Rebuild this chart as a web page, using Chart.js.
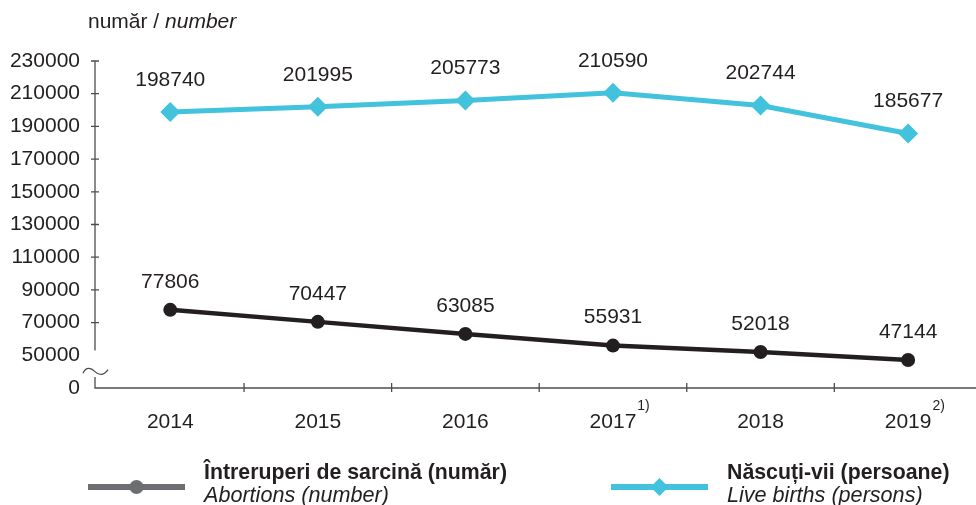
<!DOCTYPE html>
<html>
<head>
<meta charset="utf-8">
<script src="https://cdn.jsdelivr.net/npm/chart.js@4"></script>
<style>
html,body{margin:0;padding:0;background:#fff;overflow:hidden;}
#wrap{width:976px;height:505px;position:relative;}
canvas{display:block;}
</style>
</head>
<body>
<div id="wrap"><canvas id="c" width="976" height="505"></canvas></div>
<script>
const years = ['2014', '2015', '2016', '2017', '2018', '2019'];
const yearNotes = ['', '', '', '1)', '', '2)'];
const abortions = [77806, 70447, 63085, 55931, 52018, 47144];
const liveBirths = [198740, 201995, 205773, 210590, 202744, 185677];
const yTickValues = [30000, 50000, 70000, 90000, 110000, 130000, 150000, 170000, 190000, 210000, 230000];
const yTickLabels = ['0', '50000', '70000', '90000', '110000', '130000', '150000', '170000', '190000', '210000', '230000'];
const seriesNames = ['Întreruperi de sarcină (număr)', 'Născuți-vii (persoane)'];
const seriesNamesEn = ['Abortions (number)', 'Live births (persons)'];
const titleRo = 'număr / ';
const titleEn = 'number';

const TXT = '#231f20';
const FONT = '"Liberation Sans", Arial, Helvetica, sans-serif';
const BLACK = '#231f20';
const CYAN = '#42c2dc';
const GRAY = '#6d6e71';
const AXIS = '#4d4d4f';
const FS = '21px ';
const LABEL_OFFSETS = [28, 32];

const custom = {
  id: 'custom',
  afterDraw(chart) {
    const {ctx, chartArea: ca, scales: {x, y}} = chart;
    ctx.save();
    // axes
    ctx.strokeStyle = AXIS;
    ctx.lineWidth = 1.3;
    const ax = ca.left;
    ctx.beginPath();
    ctx.moveTo(ax, y.getPixelForValue(230000));
    ctx.lineTo(ax, y.getPixelForValue(53000));
    ctx.moveTo(ax, y.getPixelForValue(36700));
    ctx.lineTo(ax, ca.bottom);
    ctx.lineTo(ca.right, ca.bottom);
    ctx.stroke();
    // break symbol
    const by = (y.getPixelForValue(50000) + y.getPixelForValue(30000)) / 2;
    ctx.beginPath();
    ctx.moveTo(ax - 12, by + 1.5);
    ctx.bezierCurveTo(ax - 9, by - 5, ax - 4, by - 4, ax, by);
    ctx.bezierCurveTo(ax + 4, by + 4, ax + 9, by + 4, ax + 13, by - 2);
    ctx.stroke();
    // y ticks
    ctx.beginPath();
    yTickValues.forEach(v => {
      if (v < 70000) return;
      const py = y.getPixelForValue(v);
      ctx.moveTo(ax - 4, py);
      ctx.lineTo(ax + 4, py);
    });
    // x ticks
    for (let i = 0; i < years.length - 1; i++) {
      const px = x.getPixelForValue(i + 0.5);
      ctx.moveTo(px, ca.bottom - 5);
      ctx.lineTo(px, ca.bottom + 4);
    }
    ctx.stroke();

    ctx.fillStyle = TXT;
    // y labels
    ctx.font = FS + FONT;
    ctx.textAlign = 'right';
    ctx.textBaseline = 'middle';
    yTickValues.forEach((v, i) => {
      ctx.fillText(yTickLabels[i], 80, y.getPixelForValue(v));
    });
    // x labels
    ctx.textAlign = 'center';
    years.forEach((lab, i) => {
      const px = x.getPixelForValue(i);
      ctx.font = FS + FONT;
      ctx.fillText(lab, px, 422);
      if (yearNotes[i]) {
        const w = ctx.measureText(lab).width;
        ctx.font = '14px ' + FONT;
        ctx.textAlign = 'left';
        ctx.fillText(yearNotes[i], px + w / 2 + 1, 406);
        ctx.textAlign = 'center';
      }
    });
    // data labels
    ctx.font = FS + FONT;
    [0, 1].forEach(di => {
      const meta = chart.getDatasetMeta(di);
      const vals = chart.data.datasets[di].data;
      meta.data.forEach((el, j) => {
        ctx.fillText(String(vals[j].y), el.x, el.y - LABEL_OFFSETS[di]);
      });
    });
    // title
    ctx.textAlign = 'left';
    ctx.font = FS + FONT;
    ctx.fillText(titleRo, 88, 22);
    const tw = ctx.measureText(titleRo).width;
    ctx.font = 'italic ' + FS + FONT;
    ctx.fillText(titleEn, 88 + tw, 22);

    // legend
    const items = [
      {x0: 88, x1: 185, color: GRAY, style: 'circle', tx: 204},
      {x0: 611, x1: 708, color: CYAN, style: 'diamond', tx: 727}
    ];
    items.forEach((it, i) => {
      const ly = 487;
      ctx.strokeStyle = it.color;
      ctx.lineWidth = 6;
      ctx.beginPath();
      ctx.moveTo(it.x0, ly);
      ctx.lineTo(it.x1, ly);
      ctx.stroke();
      ctx.fillStyle = it.color;
      const cx = (it.x0 + it.x1) / 2;
      ctx.beginPath();
      if (it.style === 'circle') {
        ctx.arc(cx, ly, 7, 0, Math.PI * 2);
      } else {
        ctx.moveTo(cx, ly - 9);
        ctx.lineTo(cx + 9, ly);
        ctx.lineTo(cx, ly + 9);
        ctx.lineTo(cx - 9, ly);
        ctx.closePath();
      }
      ctx.fill();
      ctx.fillStyle = TXT;
      ctx.textBaseline = 'alphabetic';
      ctx.font = 'bold 21.3px ' + FONT;
      ctx.fillText(seriesNames[i], it.tx, 479);
      ctx.font = 'italic 21.6px ' + FONT;
      ctx.fillText(seriesNamesEn[i], it.tx, 502);
    });
    ctx.restore();
  }
};

new Chart(document.getElementById('c'), {
  type: 'line',
  data: {
    datasets: [
      {
        label: seriesNames[0],
        data: abortions.map((v, i) => ({x: i, y: v})),
        borderColor: BLACK,
        backgroundColor: BLACK,
        borderWidth: 4.5,
        pointStyle: 'circle',
        pointRadius: 7,
        pointBackgroundColor: BLACK,
        pointBorderWidth: 0,
        tension: 0
      },
      {
        label: seriesNames[1],
        data: liveBirths.map((v, i) => ({x: i, y: v})),
        borderColor: CYAN,
        backgroundColor: CYAN,
        borderWidth: 5,
        pointStyle: 'rectRot',
        pointRadius: 10,
        pointBackgroundColor: CYAN,
        pointBorderWidth: 0,
        tension: 0
      }
    ]
  },
  options: {
    responsive: false,
    animation: false,
    layout: {autoPadding: false, padding: {top: 61, left: 0, right: 0, bottom: 0}},
    plugins: {legend: {display: false}, tooltip: {enabled: false}},
    scales: {
      x: {
        type: 'linear',
        min: -0.51,
        max: 5.46,
        ticks: {display: false},
        grid: {display: false},
        border: {display: false},
        afterFit(s) { s.height = 117; }
      },
      y: {
        min: 30000,
        max: 230000,
        ticks: {display: false, stepSize: 20000},
        grid: {display: false},
        border: {display: false},
        afterFit(s) { s.width = 95; }
      }
    }
  },
  plugins: [custom]
});
</script>
</body>
</html>
